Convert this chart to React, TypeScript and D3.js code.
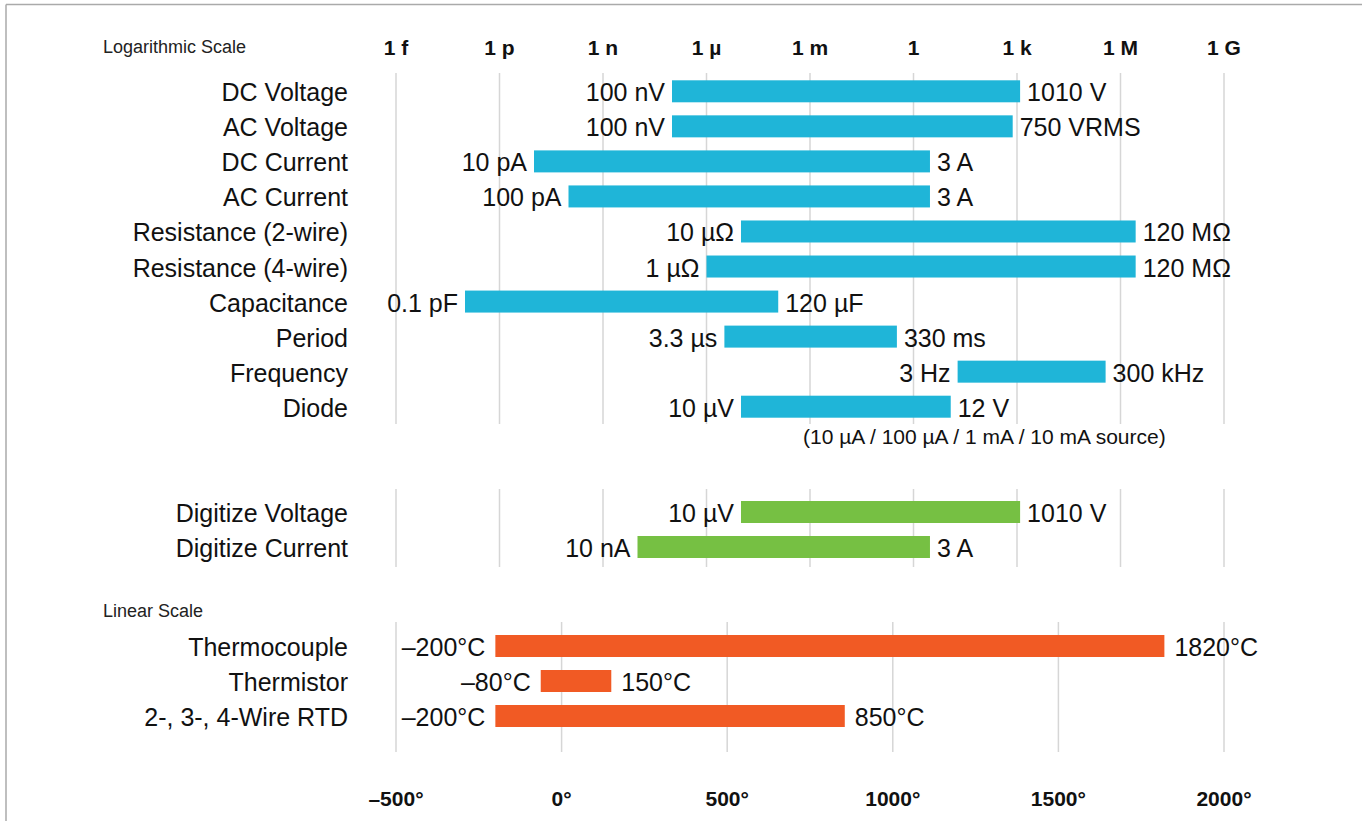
import React, { useEffect } from "react";
import * as d3 from "d3";

// ---- Data ----
const logTickValues = [1e-15, 1e-12, 1e-9, 1e-6, 1e-3, 1, 1e3, 1e6, 1e9];
const logTickLabels = ["1 f", "1 p", "1 n", "1 µ", "1 m", "1", "1 k", "1 M", "1 G"];

const logCategories = [
  "DC Voltage",
  "AC Voltage",
  "DC Current",
  "AC Current",
  "Resistance (2-wire)",
  "Resistance (4-wire)",
  "Capacitance",
  "Period",
  "Frequency",
  "Diode",
];
const logLow = [1e-7, 1e-7, 1e-11, 1e-10, 1e-5, 1e-6, 1e-13, 3.3e-6, 19, 1e-5];
const logHigh = [1230, 750, 3, 3, 2.75e6, 2.75e6, 1.2e-4, 0.33, 3.7e5, 12];
const logLowLabels = ["100 nV", "100 nV", "10 pA", "100 pA", "10 µΩ", "1 µΩ", "0.1 pF", "3.3 µs", "3 Hz", "10 µV"];
const logHighLabels = ["1010 V", "750 VRMS", "3 A", "3 A", "120 MΩ", "120 MΩ", "120 µF", "330 ms", "300 kHz", "12 V"];
const diodeNote = "(10 µA / 100 µA / 1 mA / 10 mA source)";

const digCategories = ["Digitize Voltage", "Digitize Current"];
const digLow = [1e-5, 1e-8];
const digHigh = [1230, 3];
const digLowLabels = ["10 µV", "10 nA"];
const digHighLabels = ["1010 V", "3 A"];

const linTickValues = [-500, 0, 500, 1000, 1500, 2000];
const linTickLabels = ["–500°", "0°", "500°", "1000°", "1500°", "2000°"];
const linCategories = ["Thermocouple", "Thermistor", "2-, 3-, 4-Wire RTD"];
const linLow = [-200, -63, -200];
const linHigh = [1820, 150, 855];
const linLowLabels = ["–200°C", "–80°C", "–200°C"];
const linHighLabels = ["1820°C", "150°C", "850°C"];

// ---- Style ----
const W = 1362;
const H = 821;
const FONT = "'Liberation Sans', Arial, Helvetica, sans-serif";
const BLUE = "#1fb5d8";
const GREEN = "#76c043";
const ORANGE = "#f15a24";
const GRID = "#d6d6d6";

const xLog = d3.scaleLog().domain([1e-15, 1e9]).range([396, 1224]);
const xLin = d3.scaleLinear().domain([-500, 2000]).range([396, 1224]);

const yLog = d3.scalePoint<string>().domain(logCategories).range([91.3, 406.7]);
const yDig = d3.scalePoint<string>().domain(digCategories).range([512, 547]);
const yLin = d3.scalePoint<string>().domain(linCategories).range([646, 716]);

const BAR_H = 22;
const LABEL_X = 348;
const FS = 25;

type RowProps = {
  cats: string[];
  y: d3.ScalePoint<string>;
  x: (v: number) => number;
  lo: number[];
  hi: number[];
  loL: string[];
  hiL: string[];
  color: string;
  gap: number;
};

function Rows({ cats, y, x, lo, hi, loL, hiL, color, gap }: RowProps) {
  return (
    <g>
      {cats.map((c, i) => {
        const cy = y(c) as number;
        const x0 = x(lo[i]);
        const x1 = x(hi[i]);
        return (
          <g key={c}>
            <text x={LABEL_X} y={cy} dy="0.4em" textAnchor="end" fontSize={FS} fill="#111">
              {c}
            </text>
            <rect x={x0} y={cy - BAR_H / 2} width={x1 - x0} height={BAR_H} fill={color} />
            <text x={x0 - gap} y={cy} dy="0.4em" textAnchor="end" fontSize={FS} fill="#111">
              {loL[i]}
            </text>
            <text x={x1 + gap} y={cy} dy="0.4em" textAnchor="start" fontSize={FS} fill="#111">
              {hiL[i]}
            </text>
          </g>
        );
      })}
    </g>
  );
}

function Grid({ xs, y0, y1 }: { xs: number[]; y0: number; y1: number }) {
  return (
    <g>
      {xs.map((gx, i) => (
        <line key={i} x1={gx} x2={gx} y1={y0} y2={y1} stroke={GRID} strokeWidth={1.5} />
      ))}
    </g>
  );
}

export default function App() {
  useEffect(() => {
    document.body.style.margin = "0";
  }, []);
  const logXs = logTickValues.map((v) => xLog(v));
  const linXs = linTickValues.map((v) => xLin(v));
  return (
    <svg width={W} height={H} style={{ display: "block", position: "absolute", left: 0, top: 0 }} fontFamily={FONT}>
      <rect x={0} y={0} width={W} height={H} fill="#fff" />
      {/* frame */}
      <line x1={6} x2={W} y1={4.5} y2={4.5} stroke="#aaa" strokeWidth={1.5} />
      <line x1={6} x2={6} y1={4.5} y2={H} stroke="#aaa" strokeWidth={1.5} />

      {/* section titles */}
      <text x={103} y={47} dy="0.36em" fontSize={18} fill="#222">Logarithmic Scale</text>
      <text x={103} y={611} dy="0.36em" fontSize={18} fill="#222">Linear Scale</text>

      {/* top log ticks */}
      {logTickLabels.map((t, i) => (
        <text key={t} x={logXs[i]} y={47} dy="0.36em" textAnchor="middle" fontSize={21} fontWeight="bold" fill="#111">
          {t}
        </text>
      ))}

      <Grid xs={logXs} y0={73} y1={424} />
      <Grid xs={logXs} y0={489} y1={567} />
      <Grid xs={linXs} y0={622} y1={752} />

      <Rows cats={logCategories} y={yLog} x={xLog} lo={logLow} hi={logHigh} loL={logLowLabels} hiL={logHighLabels} color={BLUE} gap={7} />
      <text x={803} y={436} dy="0.36em" fontSize={21} fill="#111">{diodeNote}</text>

      <Rows cats={digCategories} y={yDig} x={xLog} lo={digLow} hi={digHigh} loL={digLowLabels} hiL={digHighLabels} color={GREEN} gap={7} />

      <Rows cats={linCategories} y={yLin} x={xLin} lo={linLow} hi={linHigh} loL={linLowLabels} hiL={linHighLabels} color={ORANGE} gap={10} />

      {linTickLabels.map((t, i) => (
        <text key={t} x={linXs[i]} y={798} dy="0.36em" textAnchor="middle" fontSize={21} fontWeight="bold" fill="#111">
          {t}
        </text>
      ))}
    </svg>
  );
}
